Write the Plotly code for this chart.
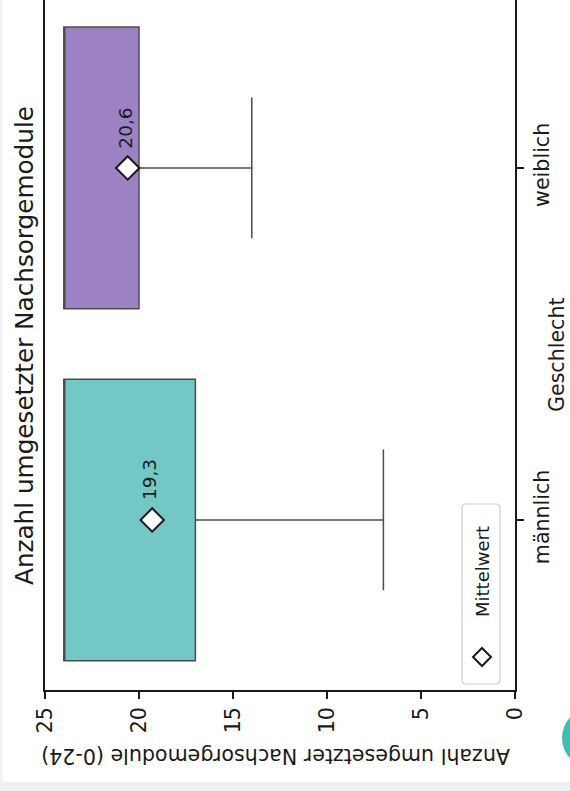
import plotly.graph_objects as go

# --- data -------------------------------------------------------------
groups = ["männlich", "weiblich"]
q1 = [17, 20]
median = [24, 24]
q3 = [24, 24]
lower_fence = [7, 14]
upper_fence = [24, 24]
means = [19.3, 20.6]
mean_labels = ["19,3", "20,6"]
value_ticks = [0, 5, 10, 15, 20, 25]

box_colors = ["#73C8C5", "#9C81C4"]
edge = "#4d4d4d"
ink = "#1a1a1a"
FONT = "DejaVu Sans"

W, H = 570, 791
L, R, T, B = 45, 55, 0, 101          # margins (px)
PW, PH = W - L - R, H - T - B


def px(x, y):
    """page pixel -> paper coordinates"""
    return (x - L) / PW, (H - B - y) / PH


fig = go.Figure()

for g, a, m, b, lo, hi, c in zip(groups, q1, median, q3, lower_fence,
                                  upper_fence, box_colors):
    fig.add_trace(go.Box(
        y=[g], q1=[a], median=[m], q3=[b], lowerfence=[lo], upperfence=[hi],
        orientation="h", width=0.8, whiskerwidth=0.5,
        fillcolor=c, line=dict(color=edge, width=1.5),
        showlegend=False, hoverinfo="skip",
    ))

fig.add_trace(go.Scatter(
    x=means, y=groups, mode="markers",
    marker=dict(symbol="diamond", size=18, color="white",
                line=dict(color=ink, width=2)),
    showlegend=False,
))

annotations = []
for g, mv, lab in zip(groups, means, mean_labels):
    annotations.append(dict(
        x=mv, y=g, xref="x", yref="y", text=lab, showarrow=False,
        textangle=-90, yshift=40, xshift=-2,
        xanchor="center", yanchor="middle",
        font=dict(family=FONT, size=18.5, color=ink),
    ))


def paper_text(x, y, text, size, angle):
    u, v = px(x, y)
    return dict(x=u, y=v, xref="paper", yref="paper", text=text,
                showarrow=False, textangle=angle,
                xanchor="center", yanchor="middle",
                font=dict(family=FONT, size=size, color=ink))


# title (reads bottom to top)
annotations.append(paper_text(25, 346, "Anzahl umgesetzter Nachsorgemodule",
                              24.7, -90))
# value axis title (upside down)
annotations.append(paper_text(276, 756,
                              "Anzahl umgesetzter Nachsorgemodule (0-24)",
                              20.6, 180))
# group axis title
annotations.append(paper_text(557, 355, "Geschlecht", 20.6, -90))
# legend label
annotations.append(paper_text(482, 572, "Mittelwert", 18, -90))

shapes = []

# page background strips and corner button
x0, y0 = px(-5, 782)
x1, y1 = px(W + 5, H + 5)
shapes.append(dict(type="rect", xref="paper", yref="paper", x0=x0, y0=y0,
                   x1=x1, y1=y1, fillcolor="#eff1f4", line_width=0,
                   layer="below"))
x0, y0 = px(-5, -5)
x1, y1 = px(2.5, H + 5)
shapes.append(dict(type="rect", xref="paper", yref="paper", x0=x0, y0=y0,
                   x1=x1, y1=y1, fillcolor="#eff1f4", line_width=0,
                   layer="below"))
x0, y0 = px(562, 708)
x1, y1 = px(622, 768)
shapes.append(dict(type="circle", xref="paper", yref="paper", x0=x0, y0=y0,
                   x1=x1, y1=y1, fillcolor="#3dbfae", line_width=0))


# legend frame with rounded corners
def rounded_rect(xa, ya, xb, yb, r):
    def p(x, y):
        u, v = px(x, y)
        return f"{u:.5f},{v:.5f}"
    return " ".join([
        f"M{p(xa + r, ya)}",
        f"L{p(xb - r, ya)}",
        f"Q{p(xb, ya)} {p(xb, ya + r)}",
        f"L{p(xb, yb - r)}",
        f"Q{p(xb, yb)} {p(xb - r, yb)}",
        f"L{p(xa + r, yb)}",
        f"Q{p(xa, yb)} {p(xa, yb - r)}",
        f"L{p(xa, ya + r)}",
        f"Q{p(xa, ya)} {p(xa + r, ya)}",
        "Z",
    ])


shapes.append(dict(type="path", xref="paper", yref="paper",
                   path=rounded_rect(462, 504, 500, 684, 4),
                   fillcolor="rgba(255,255,255,0.85)",
                   line=dict(color="#cccccc", width=1.2)))

# legend symbol (diamond)
cx, cy, s = 482, 657, 9
d = " ".join([
    "M{},{}".format(*px(cx, cy - s)),
    "L{},{}".format(*px(cx + s, cy)),
    "L{},{}".format(*px(cx, cy + s)),
    "L{},{}".format(*px(cx - s, cy)),
    "Z",
])
shapes.append(dict(type="path", xref="paper", yref="paper", path=d,
                   fillcolor="white", line=dict(color=ink, width=2)))

fig.update_layout(
    width=W, height=H,
    margin=dict(l=L, r=R, t=T, b=B, pad=0),
    paper_bgcolor="white", plot_bgcolor="white",
    font=dict(family=FONT, color=ink),
    showlegend=False,
    annotations=annotations,
    shapes=shapes,
    xaxis=dict(
        range=[25, 0], tickvals=value_ticks, ticktext=[str(v) for v in value_ticks],
        tickangle=-90, ticks="outside", ticklen=7, tickwidth=1.5,
        tickcolor=ink, showline=True, linecolor=ink, linewidth=1.6,
        mirror=False, showgrid=False, zeroline=False,
        tickfont=dict(family=FONT, size=20.6, color=ink),
    ),
    yaxis=dict(
        type="category", categoryorder="array", categoryarray=groups,
        range=[-0.483, 1.477], side="right",
        tickangle=-90, ticks="outside", ticklen=7, tickwidth=1.5,
        tickcolor=ink, showline=True, linecolor=ink, linewidth=1.6,
        mirror=True, showgrid=False, zeroline=False,
        tickfont=dict(family=FONT, size=20.6, color=ink),
    ),
)

fig.write_html("out.html")
